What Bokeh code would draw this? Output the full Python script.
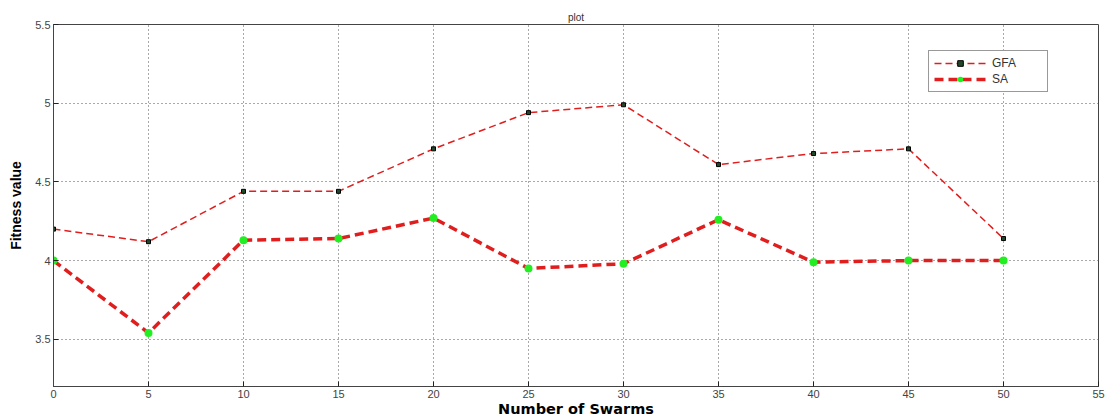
from bokeh.plotting import figure
from bokeh.embed import file_html
from bokeh.resources import INLINE
from bokeh.models import Range1d, FixedTicker, Legend, LegendItem

swarms = [0, 5, 10, 15, 20, 25, 30, 35, 40, 45, 50]
gfa = [4.20, 4.12, 4.44, 4.44, 4.71, 4.94, 4.99, 4.61, 4.68, 4.71, 4.14]
sa = [4.00, 3.54, 4.13, 4.14, 4.27, 3.95, 3.98, 4.26, 3.99, 4.00, 4.00]
x_ticks = [0, 5, 10, 15, 20, 25, 30, 35, 40, 45, 50, 55]
y_ticks = [3.5, 4.0, 4.5, 5.0, 5.5]
y_tick_labels = {3.5: "3.5", 4.0: "4", 4.5: "4.5", 5.0: "5", 5.5: "5.5"}

FONT = "Liberation Sans"
RED = "#e01e1e"

p = figure(width=1106, height=419, output_backend="svg", toolbar_location=None,
           x_range=Range1d(0, 55), y_range=Range1d(3.2, 5.5),
           min_border_left=53, min_border_right=8, min_border_top=24, min_border_bottom=33,
           title="plot")
p.title.align = "center"
p.title.text_font = FONT
p.title.text_font_style = "normal"
p.title.text_font_size = "10px"
p.title.text_color = "#333333"
p.title.offset = 0
p.title.standoff = 4

p.outline_line_color = "#444444"
p.outline_line_width = 1
p.background_fill_color = "white"
p.border_fill_color = "white"

xax = p.below[0]
yax = p.left[0]
for ax in (xax, yax):
    ax.axis_line_color = "#444444"
    ax.major_tick_in = 5
    ax.major_tick_out = 0
    ax.minor_tick_line_color = None
    ax.major_tick_line_color = "#222222"
    ax.major_label_text_font = FONT
    ax.major_label_text_font_size = "11px"
    ax.major_label_text_color = "#444444"
    ax.axis_label_text_font_style = "bold"
    ax.axis_label_text_color = "black"
    ax.major_label_standoff = 3
    ax.axis_label_standoff = 0

xax.axis_label_text_font = "DejaVu Sans"
xax.axis_label_text_font_size = "14.5px"
yax.axis_label_text_font = "Liberation Sans"
yax.axis_label_text_font_size = "14px"
yax.axis_label_standoff = 8

xax.ticker = FixedTicker(ticks=x_ticks)
yax.ticker = FixedTicker(ticks=y_ticks)
yax.major_label_overrides = y_tick_labels
xax.axis_label = "Number of Swarms"
yax.axis_label = "Fitness value"

for g in (p.xgrid[0], p.ygrid[0]):
    g.grid_line_color = "#555555"
    g.grid_line_dash = "1 3"
    g.grid_line_width = 1

l1 = p.line(swarms, gfa, line_color=RED, line_width=1.5, line_dash="7 4")
m1 = p.scatter(swarms, gfa, marker="square", size=4, fill_color="#1f4a2a",
               line_color="black", line_width=1)
l2 = p.line(swarms, sa, line_color=RED, line_width=3.5, line_dash="9 5")
m2 = p.scatter(swarms, sa, marker="circle", size=8, fill_color="#22ee22",
               line_color="#22ee22", line_width=0)

legend = Legend(items=[LegendItem(label="GFA", renderers=[l1, m1]),
                       LegendItem(label="SA", renderers=[l2, m2])],
                location=(875, 294))
legend.label_text_font = FONT
legend.label_text_font_size = "12px"
legend.label_text_color = "#333333"
legend.border_line_color = "#333333"
legend.border_line_width = 1
legend.glyph_width = 52
legend.glyph_height = 14
legend.label_height = 14
legend.spacing = 2
legend.padding = 5
legend.margin = 0
legend.label_standoff = 6
legend.label_width = 50
legend.background_fill_alpha = 1
p.add_layout(legend)

open("out.html", "w").write(file_html(p, INLINE))
